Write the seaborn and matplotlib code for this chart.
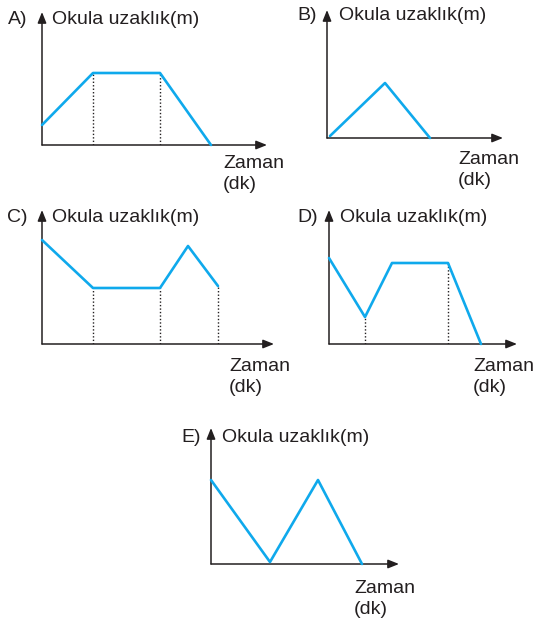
import seaborn as sns
import matplotlib.pyplot as plt
import numpy as np

# Zaman (dk) ve okula uzaklık (m) - her seçenek için grafik noktaları
a_zaman = [0.0, 5.1, 11.8, 16.9]
a_uzaklik = [2.0, 7.2, 7.2, 0.0]
a_nokta = [1, 2]

b_zaman = [0.3, 5.8, 10.3]
b_uzaklik = [0.2, 5.5, 0.0]
b_nokta = []

c_zaman = [0.0, 5.1, 11.8, 14.6, 17.6]
c_uzaklik = [10.4, 5.6, 5.6, 9.8, 5.8]
c_nokta = [1, 2, 4]

d_zaman = [0.0, 3.6, 6.3, 11.9, 15.2]
d_uzaklik = [8.6, 2.7, 8.1, 8.1, 0.0]
d_nokta = [1, 3]

e_zaman = [0.0, 5.9, 10.7, 15.1]
e_uzaklik = [8.4, 0.2, 8.4, 0.0]
e_nokta = []

secenekler = ["A)", "B)", "C)", "D)", "E)"]
y_etiket = "Okula uzaklık(m)"
x_etiket = "Zaman\n(dk)"

sns.set_style("white")
plt.rcParams["font.family"] = ["Liberation Sans", "DejaVu Sans"]

W, H = 533, 620
fig = plt.figure(figsize=(W / 100, H / 100), dpi=100)

# (orijin x, orijin y, x ok ucu, y ok ucu) piksel cinsinden
kutular = [(42, 145, 267, 12), (327, 138, 503, 10), (42, 344, 274, 210),
           (329, 344, 517, 210), (211, 564, 399, 428)]
veriler = [(a_zaman, a_uzaklik, a_nokta), (b_zaman, b_uzaklik, b_nokta),
           (c_zaman, c_uzaklik, c_nokta), (d_zaman, d_uzaklik, d_nokta),
           (e_zaman, e_uzaklik, e_nokta)]
harf_x = [8, 297, 7, 297, 181]
baslik_x = [52, 339, 52, 340, 222]
baslik_y = [20, 16, 217, 217, 437]
zaman_x = [223, 458, 229, 473, 354]
zaman_y = [174, 170, 377, 377, 599]

mavi = "#0fa9ec"
fs = 14

for i, ((x0, y0, x1, y1), (t, d, nokta)) in enumerate(zip(kutular, veriler)):
    ax = fig.add_axes([x0 / W, 1 - y0 / H, (x1 - x0) / W, (y0 - y1) / H])
    ax.set_xlim(0, (x1 - x0) / 10)
    ax.set_ylim(0, (y0 - y1) / 10)
    ax.axis("off")

    # eksen okları
    ok = dict(arrowstyle="-|>,head_length=0.65,head_width=0.26",
              color="#231f20", lw=1.1, shrinkA=0, shrinkB=0)
    ax.annotate("", xy=(1, 0), xytext=(0, 0), xycoords="axes fraction",
                arrowprops=ok, annotation_clip=False)
    ax.annotate("", xy=(0, 1), xytext=(0, 0), xycoords="axes fraction",
                arrowprops=ok, annotation_clip=False)

    # noktalı dik çizgiler
    if nokta:
        ax.vlines([t[k] for k in nokta], 0, [d[k] for k in nokta],
                  colors="#231f20", linestyles=(0, (1, 1.5)), lw=1.0)

    sns.lineplot(x=t, y=d, ax=ax, color=mavi, lw=1.9, sort=False,
                 estimator=None, clip_on=False, zorder=3)

    fig.text(harf_x[i] / W, 1 - baslik_y[i] / H, secenekler[i],
             fontsize=fs, va="center", ha="left", color="#231f20")
    fig.text(baslik_x[i] / W, 1 - baslik_y[i] / H, y_etiket,
             fontsize=fs, va="center", ha="left", color="#231f20")
    fig.text(zaman_x[i] / W, 1 - zaman_y[i] / H, x_etiket,
             fontsize=fs, va="center", ha="left", color="#231f20",
             linespacing=1.3)

fig.savefig("out.png", dpi=100, facecolor="white")
